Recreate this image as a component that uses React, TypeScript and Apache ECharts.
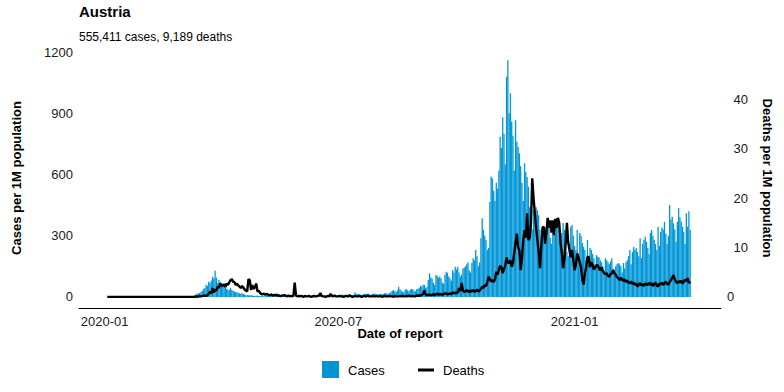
import React, { useEffect, useRef } from "react";
import * as echarts from "echarts";

// ---- Data (per 1M population), daily ----
const casesJan2020 = Array(29).fill(0);
const casesFeb2020 = [0,0,0,0,0,0,0,0,0,0,0,0,0,0,0,0,0,0,0,0,0,0,0,0,0.1,0.1,0.2,0.3,0.3];
const casesMar2020 = [0.3,0.5,0.6,0.9,1.2,1.6,2.0,2.6,3.4,5,7,12,16,18,20,24,30,38,44,60,55,75,68,80,99,90,129,95,70,83,72];
const casesApr2020 = [62,60,52,46,40,36,34,45,35,30,28,22,24,20,18,16,18,14,12,9,10,8,9,8,7,6,5,6,7,5];
const casesMay2020 = [5,6,4,3,4,5,8,6,5,3,3,4,5,7,6,5,3,2,3,4,6,5,4,3,2,4,5,4,3,4,3];
const casesJun2020 = [3,2,3,4,4,5,3,2,4,4,5,3,2,4,5,5,6,4,3,5,6,4,3,5,6,7,6,5,4,6];
const casesJul2020 = [8,7,9,12,8,6,10,11,13,14,10,8,7,23,14,13,15,12,9,8,14,16,15,17,13,9,12,16,17,14,13];
const casesAug2020 = [12,14,16,13,15,18,20,17,14,20,25,30,34,28,24,33,50,38,30,26,24,35,38,32,28,36,40,37,30,28,38];
const casesSep2020 = [40,45,55,50,60,59,45,50,83,116,95,90,70,60,108,103,95,100,90,70,65,108,124,118,100,90,80,132,120,148];
const casesOct2020 = [135,148,120,100,110,140,145,150,160,170,130,120,166,190,180,230,200,150,170,288,386,330,300,280,230,240,466,590,580,520,470];
const casesNov2020 = [560,530,620,785,730,880,800,650,1078,1160,900,998,860,790,620,866,760,735,704,640,560,470,655,613,588,540,440,400,330,425];
const casesDec2020 = [410,440,425,400,330,295,344,300,320,340,367,350,290,260,330,350,310,386,360,300,280,313,362,330,250,220,200,260,344,352,300];
const casesJan2021 = [250,230,328,200,313,300,264,245,230,180,279,200,240,230,210,190,160,205,197,195,180,170,150,130,190,180,170,160,175,190,140];
const casesFeb2021 = [130,150,160,166,160,150,120,166,140,170,180,200,230,160,220,245,230,240,220,200,288,190,260,280,295,270,240,210];
const casesMar2021 = [313,328,300,280,260,230,344,250,320,340,330,368,310,260,300,450,380,393,360,330,270,368,435,390,370,344,320,260,410,344,420];
const casesApr2021 = [328];

const deathsJan2020 = Array(29).fill(0);
const deathsFeb2020 = Array(29).fill(0);
const deathsMar2020 = [0,0,0,0,0,0,0,0,0,0,0,0.1,0,0.1,0.1,0.1,0.2,0.2,0.3,0.2,0.3,0.6,1.1,0.7,1.8,0.9,1.5,1.3,2.1,1.8,2.7];
const deathsApr2020 = [2.4,2.2,2.6,2.0,2.7,2.4,2.9,3.4,3.6,3.1,3.0,2.4,2.7,2.3,2.1,1.8,2.2,1.9,1.5,1.3,1.1,3.6,3.4,1.4,2.4,1.6,2.0,2.7,1.1,1.3];
const deathsMay2020 = [0.8,0.6,0.5,0.7,0.4,0.6,0.5,0.3,0.4,0.5,0.2,0.4,0.3,0.5,0.2,0.3,0.1,0.3,0.2,0.4,0.2,0.1,0.3,0.1,0.2,0.1,0.3,2.9,0.3,0.1,0.2];
const deathsJun2020 = [0.1,0.2,0.1,0.0,0.2,0.1,0.1,0.2,0.1,0.0,0.1,0.2,0.1,0.1,0.2,0.3,0.8,0.2,0.1,0.1,0.0,0.1,0.2,0.1,0.6,0.2,0.1,0.3,0.1,0.1];
const deathsJul2020 = [0.1,0.2,0.1,0.1,0.0,0.1,0.2,0.1,0.1,0.3,0.1,0.0,0.1,0.2,0.1,0.1,0.2,0.1,0.0,0.1,0.2,0.1,0.1,0.3,0.1,0.1,0.1,0.2,0.1,0.1,0.2];
const deathsAug2020 = [0.1,0.1,0.2,0.0,0.1,0.2,0.1,0.1,0.1,0.2,0.1,0.1,0.0,0.2,0.1,0.1,0.1,0.2,0.1,0.2,0.1,0.1,0.2,0.1,0.3,0.1,0.1,0.2,0.1,0.1,0.3];
const deathsSep2020 = [0.2,0.3,0.2,0.4,0.6,1.3,0.5,0.3,0.4,0.5,0.3,0.4,0.6,0.3,0.5,0.7,0.4,0.6,0.5,0.4,0.7,0.6,0.8,0.5,0.6,0.7,0.5,0.9,0.8,0.7];
const deathsOct2020 = [1.0,0.8,1.8,1.2,2.8,1.3,1.0,1.1,1.4,1.2,0.9,1.3,1.1,1.4,1.0,1.2,1.5,1.1,1.3,1.6,2.1,1.8,2.4,2.2,3.0,4.1,3.6,3.1,3.4,3.0,3.6];
const deathsNov2020 = [5.1,4.5,5.5,6.3,6.0,4.8,5.6,6.4,8.0,7.0,6.8,7.4,6.1,6.8,9.0,11.0,12.8,10.0,9.4,5.4,8.0,11.5,13.5,12.0,16.9,11.5,12.0,15.0,24.0,20.0];
const deathsDec2020 = [17,14,11.5,9,5.8,10,14,14.2,10.8,13,16,14,15.5,13,15.5,12.5,15.8,14,16,15,11,9,5.8,7.5,10.8,15,11,9.5,8,9.5,7.4];
const deathsJan2021 = [5.4,6.5,8.8,8,7,6,3.5,2.5,4.8,6,8.1,8.1,6,7,6.5,5.5,6,6.4,6.4,5.8,5.4,6,5.2,4.8,4.6,4.8,4.2,4.1,4.6,4.8,5.4];
const deathsFeb2021 = [4.8,4.5,4.0,3.8,3.4,3.9,3.5,3.2,3.6,3.0,3.3,2.9,2.8,3.1,2.6,2.9,2.4,2.7,2.1,2.5,2.8,2.3,2.6,2.2,2.7,2.6,2.4,2.9];
const deathsMar2021 = [2.4,2.8,2.2,2.6,2.9,2.3,2.1,2.7,2.5,2.9,2.4,2.8,3.1,2.6,2.5,3.0,3.4,3.9,4.4,3.6,3.0,2.8,3.2,2.9,3.3,2.7,3.1,3.5,3.2,3.8,2.8];
const deathsApr2021 = [3.1];

const months = [
  { year: 2020, month: 0, firstDay: 3, cases: casesJan2020, deaths: deathsJan2020 },
  { year: 2020, month: 1, firstDay: 1, cases: casesFeb2020, deaths: deathsFeb2020 },
  { year: 2020, month: 2, firstDay: 1, cases: casesMar2020, deaths: deathsMar2020 },
  { year: 2020, month: 3, firstDay: 1, cases: casesApr2020, deaths: deathsApr2020 },
  { year: 2020, month: 4, firstDay: 1, cases: casesMay2020, deaths: deathsMay2020 },
  { year: 2020, month: 5, firstDay: 1, cases: casesJun2020, deaths: deathsJun2020 },
  { year: 2020, month: 6, firstDay: 1, cases: casesJul2020, deaths: deathsJul2020 },
  { year: 2020, month: 7, firstDay: 1, cases: casesAug2020, deaths: deathsAug2020 },
  { year: 2020, month: 8, firstDay: 1, cases: casesSep2020, deaths: deathsSep2020 },
  { year: 2020, month: 9, firstDay: 1, cases: casesOct2020, deaths: deathsOct2020 },
  { year: 2020, month: 10, firstDay: 1, cases: casesNov2020, deaths: deathsNov2020 },
  { year: 2020, month: 11, firstDay: 1, cases: casesDec2020, deaths: deathsDec2020 },
  { year: 2021, month: 0, firstDay: 1, cases: casesJan2021, deaths: deathsJan2021 },
  { year: 2021, month: 1, firstDay: 1, cases: casesFeb2021, deaths: deathsFeb2021 },
  { year: 2021, month: 2, firstDay: 1, cases: casesMar2021, deaths: deathsMar2021 },
  { year: 2021, month: 3, firstDay: 1, cases: casesApr2021, deaths: deathsApr2021 },
];

const xTickLabels = ["2020-01", "2020-07", "2021-01"];
const leftTicks = [0, 300, 600, 900, 1200];
const rightTicks = [0, 10, 20, 30, 40];

const FONT = "'Liberation Sans', Arial, Helvetica, sans-serif";
const BLUE = "#0096d6";
const DAY = 86400000;

function fmtMonth(v: number) {
  const d = new Date(v);
  return d.getUTCFullYear() + "-" + String(d.getUTCMonth() + 1).padStart(2, "0");
}

export default function App() {
  const ref = useRef<HTMLDivElement>(null);

  useEffect(() => {
    if (!ref.current) return;
    const chart = echarts.init(ref.current, null, { renderer: "svg" });

    const caseData: [number, number][] = [];
    const deathData: [number, number][] = [];
    months.forEach(({ year, month, firstDay, cases, deaths }) => {
      cases.forEach((v, i) => {
        const t = Date.UTC(year, month, firstDay + i);
        caseData.push([t, v]);
        deathData.push([t, deaths[i]]);
      });
    });

    const isTick = (v: number, ticks: number[]) => {
      const r = Math.round(v);
      return Math.abs(v - r) < 1e-6 && ticks.indexOf(r) >= 0;
    };

    const option: any = {
      animation: false,
      textStyle: { fontFamily: FONT },
      title: [
        {
          text: "Austria",
          left: 79,
          top: 4,
          padding: 0,
          textStyle: { fontSize: 15, fontWeight: "bold", color: "#000", fontFamily: FONT },
        },
        {
          text: "555,411 cases, 9,189 deaths",
          left: 79,
          top: 31,
          padding: 0,
          textStyle: { fontSize: 12, fontWeight: "normal", color: "#000", fontFamily: FONT },
        },
      ],
      grid: { left: 79, right: 63, top: 48, bottom: 84 },
      xAxis: {
        type: "value",
        min: Date.UTC(2019, 11, 12),
        max: Date.UTC(2021, 3, 25),
        interval: DAY,
        name: "Date of report",
        nameLocation: "middle",
        nameGap: 19,
        nameMoveOverlap: false,
        nameTextStyle: { fontSize: 13, fontWeight: "bold", color: "#000", fontFamily: FONT },
        axisLine: { show: true, onZero: false, lineStyle: { color: "#000", width: 1 } },
        axisTick: { show: false },
        splitLine: { show: false },
        axisLabel: {
          interval: 0,
          formatter: (v: number) => {
            const d = new Date(v);
            if (d.getUTCDate() !== 1) return "";
            const s = fmtMonth(v);
            return xTickLabels.indexOf(s) >= 0 ? s : "";
          },
          fontSize: 13,
          color: "#1a1a1a",
          margin: 7,
          fontFamily: FONT,
        },
      },
      yAxis: [
        {
          type: "value",
          min: -54,
          max: 1219.6,
          interval: 6,
          name: "Cases per 1M population",
          nameLocation: "middle",
          nameGap: 56,
          nameMoveOverlap: false,
          nameTextStyle: { fontSize: 13, fontWeight: "bold", color: "#000", fontFamily: FONT },
          axisLine: { show: false },
          axisTick: { show: false },
          splitLine: { show: false },
          axisLabel: {
            interval: 0,
            margin: 6,
            fontSize: 13,
            color: "#1a1a1a",
            fontFamily: FONT,
            formatter: (v: number) => (isTick(v, leftTicks) ? String(Math.round(v)) : ""),
          },
        },
        {
          type: "value",
          min: -2.25,
          max: 50.4,
          interval: 0.25,
          position: "right",
          name: "Deaths per 1M population",
          nameLocation: "middle",
          nameGap: 40,
          nameRotate: -90,
          nameMoveOverlap: false,
          nameTextStyle: { fontSize: 13, fontWeight: "bold", color: "#000", fontFamily: FONT },
          axisLine: { show: false },
          axisTick: { show: false },
          splitLine: { show: false },
          axisLabel: {
            interval: 0,
            margin: 27,
            align: "right",
            fontSize: 13,
            color: "#1a1a1a",
            fontFamily: FONT,
            rich: { z: { width: 21, align: "left", fontSize: 13, color: "#1a1a1a", fontFamily: FONT } },
            formatter: (v: number) => {
              if (!isTick(v, rightTicks)) return "";
              const r = Math.round(v);
              return r === 0 ? "{z|0}" : String(r);
            },
          },
        },
      ],
      series: [
        {
          type: "bar",
          name: "Cases",
          data: caseData,
          yAxisIndex: 0,
          barWidth: 1.3,
          itemStyle: { color: BLUE },
          z: 2,
        },
        {
          type: "line",
          name: "Deaths",
          data: deathData,
          yAxisIndex: 1,
          symbol: "none",
          showSymbol: false,
          lineStyle: { color: "#000", width: 2.4 },
          z: 3,
        },
      ],
      graphic: [
        { type: "rect", shape: { x: 322, y: 361, width: 17, height: 17 }, style: { fill: BLUE } },
        {
          type: "text",
          x: 348,
          y: 370,
          style: { text: "Cases", fontSize: 13, fill: "#000", fontFamily: FONT, verticalAlign: "middle" },
        },
        { type: "line", shape: { x1: 418, y1: 370, x2: 434, y2: 370 }, style: { stroke: "#000", lineWidth: 3 } },
        {
          type: "text",
          x: 443,
          y: 370,
          style: { text: "Deaths", fontSize: 13, fill: "#000", fontFamily: FONT, verticalAlign: "middle" },
        },
      ],
    };

    chart.setOption(option);
    return () => chart.dispose();
  }, []);

  return (
    <div
      ref={ref}
      style={{ position: "fixed", left: 0, top: 0, width: 784, height: 392, background: "#fff" }}
    />
  );
}
